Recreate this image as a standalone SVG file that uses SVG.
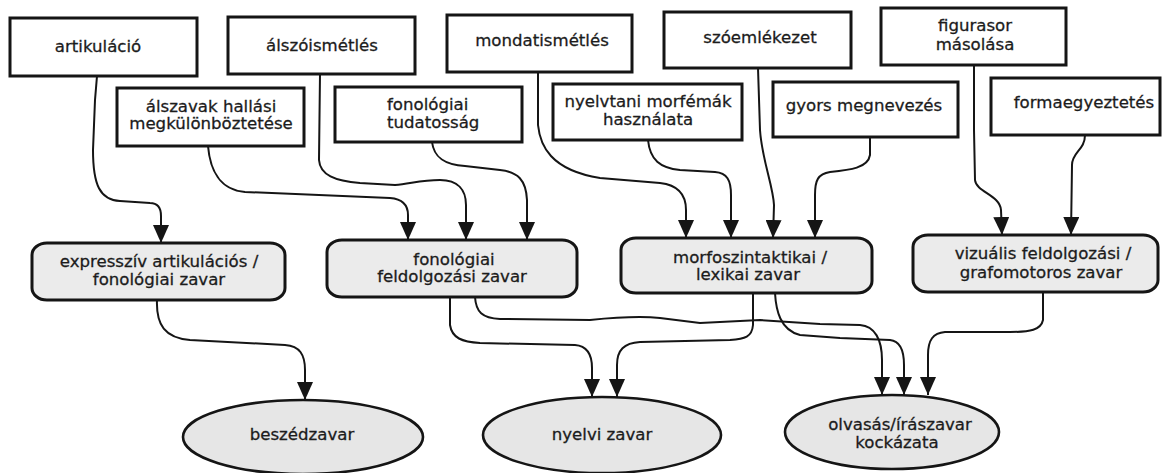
<svg xmlns="http://www.w3.org/2000/svg" width="1169" height="473" viewBox="0 0 1169 473">
<defs>
<style>
.box{fill:#fff;stroke:#151515;stroke-width:3}
.rbox{fill:#ebebeb;stroke:#151515;stroke-width:3}
.ell{fill:#e6e6e6;stroke:#151515;stroke-width:2.6}
.t{font-family:"DejaVu Sans",Verdana,sans-serif;font-size:16.6px;fill:#1c1c1c;stroke:#1c1c1c;stroke-width:0.3;text-anchor:middle}
.c path{fill:none;stroke:#151515;stroke-width:2;marker-end:url(#ah)}
</style>
<marker id="ah" markerUnits="userSpaceOnUse" viewBox="0 0 18 16" refX="18" refY="8" markerWidth="18" markerHeight="16" orient="auto">
<path d="M0,0 L18,8 L0,16 z" fill="#151515"/>
</marker>
</defs>
<rect width="1169" height="473" fill="#fff"/>

<g class="c" id="connectors">
<path d="M97,76 L95,100 L93,150 C93,185 100,200 120,201 L150,203 C158,203 161,208 161,216 L161,243"/>
<path d="M208,146 C210,170 220,190 245,192 L390,198 C403,199 408,205 408,215 L408,240"/>
<path d="M320,74 L319,160 C320,175 335,181 360,183 L395,185 C410,184 420,180 440,180 C458,180 466,190 466,205 L466,240"/>
<path d="M432,142 C434,158 445,165 465,166 L500,170 C518,172 526,180 527,200 L527,240"/>
<path d="M538,72 L538,125 C540,145 550,170 600,178 L660,183 C678,185 686,195 686,210 L686,238"/>
<path d="M648,140 C650,160 660,168 680,170 L715,172 C727,173 731,180 731,195 L731,238"/>
<path d="M758,68 L760,130 C762,160 773,185 774,205 L773,238"/>
<path d="M870,137 L870,155 C868,168 850,170 830,172 C818,174 815,180 815,195 L815,238"/>
<path d="M974,65 L974,130 L975,180 C976,192 1000,195 1001,210 L1002,235"/>
<path d="M1085,135 C1085,150 1072,152 1072,165 L1071,235"/>
<path d="M157,300 C156,325 165,338 190,340 L285,345 C300,346 305,355 305,370 L305,400"/>
<path d="M450,297 L450,325 C452,338 462,342 480,343 L575,345 C588,346 592,355 592,368 L592,397"/>
<path d="M753,293 L753,325 C752,337 745,339 730,340 L640,342 C624,343 617,350 617,365 L617,397"/>
<path d="M475,297 C476,312 482,318 500,319 L590,320 C610,318 640,316 660,318 L700,323 L760,320 L820,324 L860,325 C875,326 882,340 882,360 L882,395"/>
<path d="M775,293 C776,310 780,330 800,335 L840,338 L890,340 C900,341 904,350 904,365 L904,395"/>
<path d="M1043,292 L1043,320 C1041,330 1030,332 1010,332 L945,332 C933,333 928,340 928,355 L928,395"/>
</g>

<g id="n-artikulacio"><rect class="box" x="10" y="18" width="187" height="58"/><text class="t" x="98" y="52">artikuláció</text></g>
<g id="n-alszoismetles"><rect class="box" x="228" y="17" width="187" height="57"/><text class="t" x="322" y="51">álszóismétlés</text></g>
<g id="n-mondatismetles"><rect class="box" x="447" y="15" width="185" height="57"/><text class="t" x="542" y="46">mondatismétlés</text></g>
<g id="n-szoemlekezet"><rect class="box" x="664" y="12" width="187" height="56"/><text class="t" x="760" y="43">szóemlékezet</text></g>
<g id="n-figurasor"><rect class="box" x="881" y="8" width="185" height="57"/><text class="t" x="975" y="31">figurasor</text><text class="t" x="975" y="50">másolása</text></g>

<g id="n-alszavak"><rect class="box" x="117" y="88" width="187" height="58"/><text class="t" x="211" y="112">álszavak hallási</text><text class="t" x="211" y="129">megkülönböztetése</text></g>
<g id="n-tudatossag"><rect class="box" x="335" y="87" width="187" height="55"/><text class="t" x="387" y="110" style="text-anchor:start">fonológiai</text><text class="t" x="387" y="128" style="text-anchor:start">tudatosság</text></g>
<g id="n-morfemak"><rect class="box" x="553" y="84" width="189" height="56"/><text class="t" x="648" y="107">nyelvtani morfémák</text><text class="t" x="648" y="125">használata</text></g>
<g id="n-gyors"><rect class="box" x="773" y="82" width="185" height="55"/><text class="t" x="864" y="111">gyors megnevezés</text></g>
<g id="n-forma"><rect class="box" x="991" y="78" width="169" height="57"/><text class="t" x="1084" y="108">formaegyeztetés</text></g>

<g id="n-expressziv"><rect class="rbox" x="32" y="243" width="253" height="57" rx="15" ry="12"/><text class="t" x="159" y="267">expresszív artikulációs  /</text><text class="t" x="159" y="285">fonológiai zavar</text></g>
<g id="n-fonfeld"><rect class="rbox" x="327" y="240" width="250" height="57" rx="15" ry="12"/><text class="t" x="454" y="265">fonológiai</text><text class="t" x="452" y="282">feldolgozási zavar</text></g>
<g id="n-morfo"><rect class="rbox" x="621" y="238" width="251" height="55" rx="15" ry="12"/><text class="t" x="750" y="263">morfoszintaktikai /</text><text class="t" x="748" y="280">lexikai  zavar</text></g>
<g id="n-vizualis"><rect class="rbox" x="913" y="235" width="245" height="57" rx="15" ry="12"/><text class="t" x="1043" y="259">vizuális feldolgozási /</text><text class="t" x="1041" y="278">grafomotoros zavar</text></g>

<g id="n-beszed"><ellipse class="ell" cx="303" cy="437" rx="120" ry="37"/><text class="t" x="302" y="440">beszédzavar</text></g>
<g id="n-nyelvi"><ellipse class="ell" cx="602" cy="435" rx="119" ry="38"/><text class="t" x="602" y="440">nyelvi zavar</text></g>
<g id="n-olvasas"><ellipse class="ell" cx="892" cy="432" rx="107" ry="37"/><text class="t" x="900" y="430">olvasás/írászavar</text><text class="t" x="897" y="448">kockázata</text></g>
</svg>
